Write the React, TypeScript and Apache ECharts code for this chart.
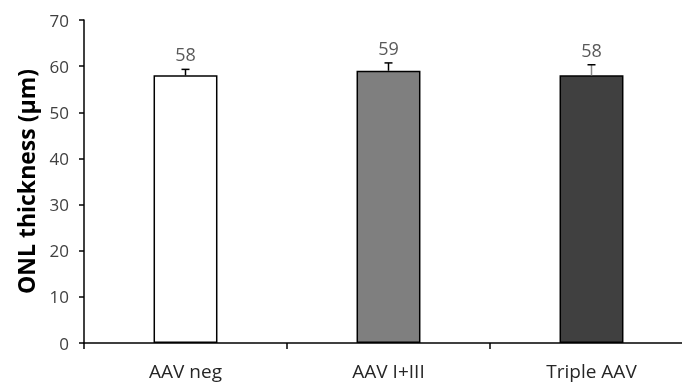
import React, { useEffect, useRef } from "react";
import * as echarts from "echarts";

const categories = ["AAV neg", "AAV I+III", "Triple AAV"];
const values = [58, 59, 58];
const errors = [1.3, 1.7, 2.3];
const barColors = ["#ffffff", "#7f7f7f", "#404040"];
const yTicks = [0, 10, 20, 30, 40, 50, 60, 70];

export default function App() {
  const ref = useRef<HTMLDivElement>(null);
  useEffect(() => {
    if (!ref.current) return;
    const chart = echarts.init(ref.current, undefined, { renderer: "svg" });
    const font = "Open Sans";
    chart.setOption({
      animation: false,
      grid: { left: 84, right: 7, top: 20, bottom: 42 },
      xAxis: {
        type: "category",
        data: categories,
        axisLine: { lineStyle: { color: "#000", width: 1.5 } },
        axisTick: { show: true, length: 6, lineStyle: { color: "#000", width: 1.5 } },
        axisLabel: { color: "#262626", fontSize: 19, fontFamily: font, margin: 18 },
      },
      yAxis: {
        type: "value",
        min: yTicks[0],
        max: yTicks[yTicks.length - 1],
        interval: 10,
        name: "ONL thickness (µm)",
        nameLocation: "middle",
        nameGap: 47,
        nameTextStyle: { color: "#000", fontSize: 23, fontWeight: "bold", fontFamily: font },
        axisLine: { show: true, lineStyle: { color: "#000", width: 1.5 } },
        axisTick: { show: true, length: 5, inside: false, lineStyle: { color: "#000", width: 1.5 } },
        axisLabel: { color: "#404040", fontSize: 17, fontFamily: font, margin: 15 },
        splitLine: { show: false },
      },
      series: [
        {
          type: "bar",
          data: values.map((v, i) => ({ value: v, itemStyle: { color: barColors[i] } })),
          barWidth: "31.5%",
          itemStyle: { borderColor: "#000", borderWidth: 1.5 },
        },
        {
          type: "custom",
          data: values.map((v, i) => [i, v, errors[i]]),
          z: 10,
          renderItem: (params: any, api: any) => {
            const i = api.value(0);
            const v = api.value(1);
            const e = api.value(2);
            const base = api.coord([i, v]);
            const top = api.coord([i, v + e]);
            const cw = 4;
            const stemColor = i === 2 ? "#888" : "#000";
            return {
              type: "group",
              children: [
                { type: "line", shape: { x1: base[0], y1: base[1], x2: top[0], y2: top[1] }, style: { stroke: stemColor, lineWidth: 1.5 } },
                { type: "line", shape: { x1: top[0] - cw, y1: top[1], x2: top[0] + cw, y2: top[1] }, style: { stroke: "#000", lineWidth: 1.5 } },
                {
                  type: "text",
                  x: top[0],
                  y: top[1] - 6,
                  style: { text: String(values[i]), fill: "#595959", fontSize: 18, fontFamily: font, align: "center", verticalAlign: "bottom" },
                },
              ],
            };
          },
        },
      ],
    });
    return () => chart.dispose();
  }, []);
  return <div ref={ref} style={{ position: "fixed", left: 0, top: 0, width: 700, height: 385 }} />;
}
